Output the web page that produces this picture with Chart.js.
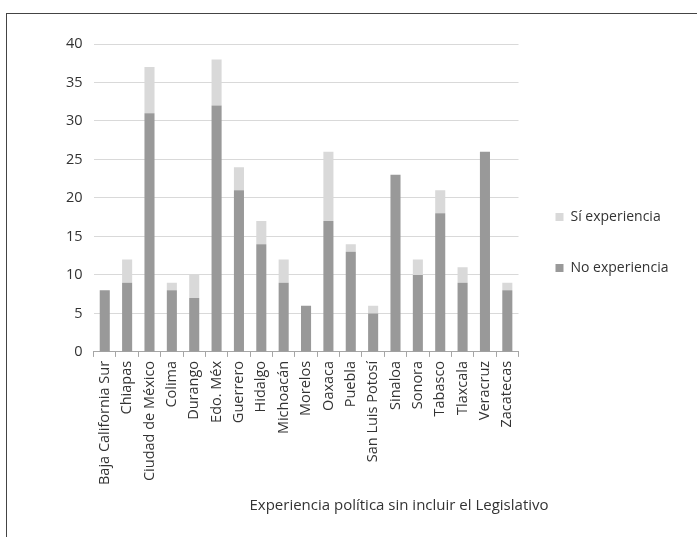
<!DOCTYPE html>
<html>
<head>
<meta charset="utf-8">
<script src="https://cdn.jsdelivr.net/npm/chart.js@4.4.1/dist/chart.umd.min.js"></script>
<style>
  html, body { margin: 0; padding: 0; background: #fff; overflow: hidden; }
  #frame { position: absolute; left: 6px; top: 13px; width: 720px; height: 560px; border: 1px solid #444; }
  #wrap { position: absolute; left: 0; top: 0; width: 666px; height: 501px; }
</style>
</head>
<body>
<div id="frame"><div id="wrap"><canvas id="chart"></canvas></div></div>
<script>
// ── Data ──
const states = ["Baja California Sur", "Chiapas", "Ciudad de México", "Colima", "Durango", "Edo. Méx",
  "Guerrero", "Hidalgo", "Michoacán", "Morelos", "Oaxaca", "Puebla", "San Luis Potosí", "Sinaloa",
  "Sonora", "Tabasco", "Tlaxcala", "Veracruz", "Zacatecas"];
const noExperiencia = [8, 9, 31, 8, 7, 32, 21, 14, 9, 6, 17, 13, 5, 23, 10, 18, 9, 26, 8];
const siExperiencia = [0, 3, 6, 1, 3, 6, 3, 3, 3, 0, 9, 1, 1, 0, 2, 3, 2, 0, 1];
const yTicks = [0, 5, 10, 15, 20, 25, 30, 35, 40];

const FONT = "'Open Sans', 'Noto Sans', sans-serif";
const TXT = "#333", GRID = "#d9d9d9", AXIS = "#a6a6a6";
const DARK = "#999999", LIGHT = "#d9d9d9";

// move legend and bottom title to where the reference has them
const placeBlocks = {
  id: "placeBlocks",
  afterLayout(chart) {
    const L = chart.legend;
    if (L) {
      const s = 228.5 - (L.top + L.bottom) / 2;
      L.top += s;
      L.bottom += s;
    }
    const T = chart.titleBlock;
    if (T) {
      const d = 392 - (T.left + T.right) / 2;
      T.left += d;
      T.right += d;
    }
  }
};

new Chart(document.getElementById("chart"), {
  type: "bar",
  data: {
    labels: states,
    datasets: [
      {
        label: "No experiencia",
        data: noExperiencia,
        backgroundColor: DARK,
        borderWidth: 0,
        barPercentage: 0.45,
        categoryPercentage: 1
      },
      {
        label: "Sí experiencia",
        data: siExperiencia,
        backgroundColor: LIGHT,
        borderWidth: 0,
        barPercentage: 0.45,
        categoryPercentage: 1
      }
    ]
  },
  options: {
    responsive: true,
    maintainAspectRatio: false,
    animation: false,
    devicePixelRatio: 1,
    layout: { padding: { left: 48, top: 30, right: 0, bottom: 0 } },
    plugins: {
      legend: {
        position: "right",
        reverse: true,
        labels: {
          color: TXT,
          font: { family: FONT, size: 14 },
          boxWidth: 8,
          boxHeight: 8,
          padding: 37
        }
      },
      title: {
        display: true,
        position: "bottom",
        text: "Experiencia política sin incluir el Legislativo",
        color: TXT,
        font: { family: FONT, size: 15, weight: "normal" },
        padding: { top: 8, bottom: 0 }
      },
      tooltip: { enabled: false }
    },
    scales: {
      x: {
        stacked: true,
        grid: { drawOnChartArea: false, drawTicks: true, tickLength: 5, color: AXIS, offset: true },
        border: { display: true, color: AXIS },
        ticks: { color: TXT, font: { family: FONT, size: 14.5 }, minRotation: 90, maxRotation: 90, padding: 4, autoSkip: false }
      },
      y: {
        stacked: true,
        min: 0,
        max: 40,
        afterBuildTicks(axis) { axis.ticks = yTicks.map(v => ({ value: v })); },
        grid: { color: GRID, drawTicks: false },
        border: { display: false },
        ticks: { color: TXT, font: { family: FONT, size: 14.5 }, padding: 11 }
      }
    }
  },
  plugins: [placeBlocks]
});
</script>
</body>
</html>
